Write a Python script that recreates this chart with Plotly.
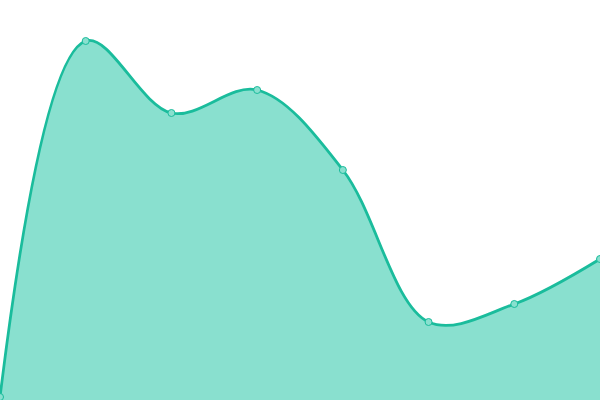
import plotly.graph_objects as go

# one series, eight evenly spaced points
x_idx = [0, 1, 2, 3, 4, 5, 6, 7]
values = [0.75, 89.75, 71.75, 77.5, 57.5, 19.5, 24, 35.25]

line_color = '#1abc9c'
fill_color = '#89e0cf'

fig = go.Figure()
fig.add_trace(go.Scatter(x=x_idx, y=values, mode='lines+markers',
                         line={'color': line_color, 'width': 2.8, 'shape': 'spline', 'smoothing': 1},
                         fill='tozeroy', fillcolor=fill_color,
                         marker={'size': 7, 'color': fill_color, 'line': {'color': line_color, 'width': 1}},
                         hoverinfo='skip'))
fig.update_xaxes(visible=False, range=[0, 7])
fig.update_yaxes(visible=False, range=[0, 100])
fig.update_layout(width=600, height=400, margin={'l': 0, 'r': 0, 't': 0, 'b': 0},
                  paper_bgcolor='white', plot_bgcolor='white', showlegend=False)
# page body has a default 8px margin, drop it so the chart fills the window
fig.write_html("out.html", config={'displayModeBar': False},
               post_script="document.body.style.margin='0';")
